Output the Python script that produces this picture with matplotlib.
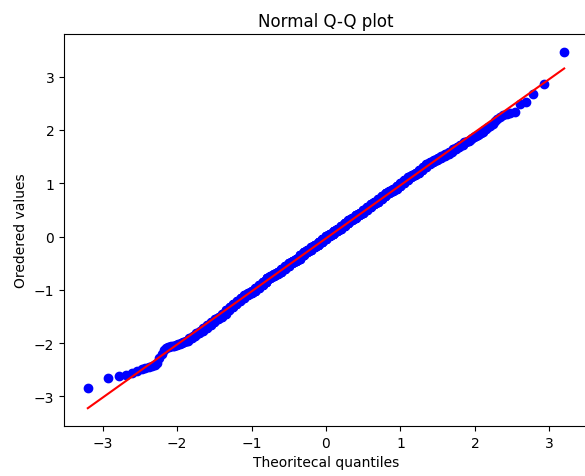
import numpy as np
import matplotlib
matplotlib.use("Agg")
import matplotlib.pyplot as plt
from statistics import NormalDist

low_tail = [-2.85, -2.66, -2.62, -2.59, -2.56, -2.52, -2.49, -2.46, -2.44, -2.43,
            -2.41, -2.37, -2.28, -2.20, -2.13, -2.10, -2.08, -2.07, -2.06, -2.05,
            -2.05, -2.04, -2.03, -2.02, -2.01, -2.00, -1.99, -1.98, -1.97]

# the dense band: observation value and how many observations sit at it
band_values = [-1.955, -1.905, -1.860, -1.815, -1.765, -1.715, -1.660, -1.605, -1.555, -1.500,
               -1.445, -1.385, -1.325, -1.265, -1.205, -1.145, -1.095, -1.055, -1.015, -0.965,
               -0.905, -0.845, -0.785, -0.745, -0.705, -0.665, -0.615, -0.555, -0.495, -0.455,
               -0.415, -0.355, -0.295, -0.245, -0.205, -0.165, -0.105, -0.055,
               0.005, 0.055, 0.095, 0.135, 0.195, 0.255, 0.315, 0.355, 0.395, 0.435,
               0.495, 0.555, 0.605, 0.645, 0.695, 0.755, 0.815, 0.855, 0.895, 0.945,
               1.005, 1.065, 1.115, 1.155, 1.195, 1.245, 1.305, 1.355, 1.395, 1.435,
               1.475, 1.515, 1.555, 1.595, 1.635, 1.675, 1.725, 1.765]
band_counts = [3, 4, 4, 5, 4, 6, 6, 6, 7, 7, 8, 8, 9, 9, 10, 11, 11, 12, 12, 13,
               14, 14, 15, 15, 16, 16, 17, 18, 17, 19, 18, 19, 19, 20, 19, 20, 20, 20,
               20, 20, 20, 19, 20, 19, 19, 18, 19, 17, 18, 17, 16, 16, 15, 15, 14, 14,
               13, 12, 12, 11, 11, 10, 9, 9, 8, 8, 7, 7, 6, 6, 6, 4, 5, 4, 4, 3]

high_tail = [1.79, 1.80, 1.82, 1.83, 1.85, 1.86, 1.88, 1.89, 1.91, 1.93,
             1.95, 1.97, 2.00, 2.02, 2.05, 2.08, 2.11, 2.17, 2.21, 2.25,
             2.28, 2.30, 2.31, 2.33, 2.49, 2.52, 2.67, 2.86, 3.465]

ordered = np.concatenate([low_tail, np.repeat(band_values, band_counts), high_tail])
ordered = np.sort(ordered)
n = len(ordered)

# Filliben order statistic medians -> theoretical normal quantiles
m = (np.arange(1, n + 1) - 0.3175) / (n + 0.365)
m[-1] = 0.5 ** (1.0 / n)
m[0] = 1 - m[-1]
nd = NormalDist()
theo = np.array([nd.inv_cdf(p) for p in m])

slope, intercept = np.polyfit(theo, ordered, 1)

fig = plt.figure(figsize=(5.85, 4.77), dpi=100)
ax = fig.add_axes([64 / 585, 50 / 477, 524 / 585, 392 / 477])
ax.plot(theo, ordered, 'bo')
ax.plot(theo, slope * theo + intercept, 'r-')
ax.set_title("Normal Q-Q plot")
ax.set_xlabel("Theoritecal quantiles")
ax.set_ylabel("Oredered values")

fig.savefig("out.png", dpi=100)
